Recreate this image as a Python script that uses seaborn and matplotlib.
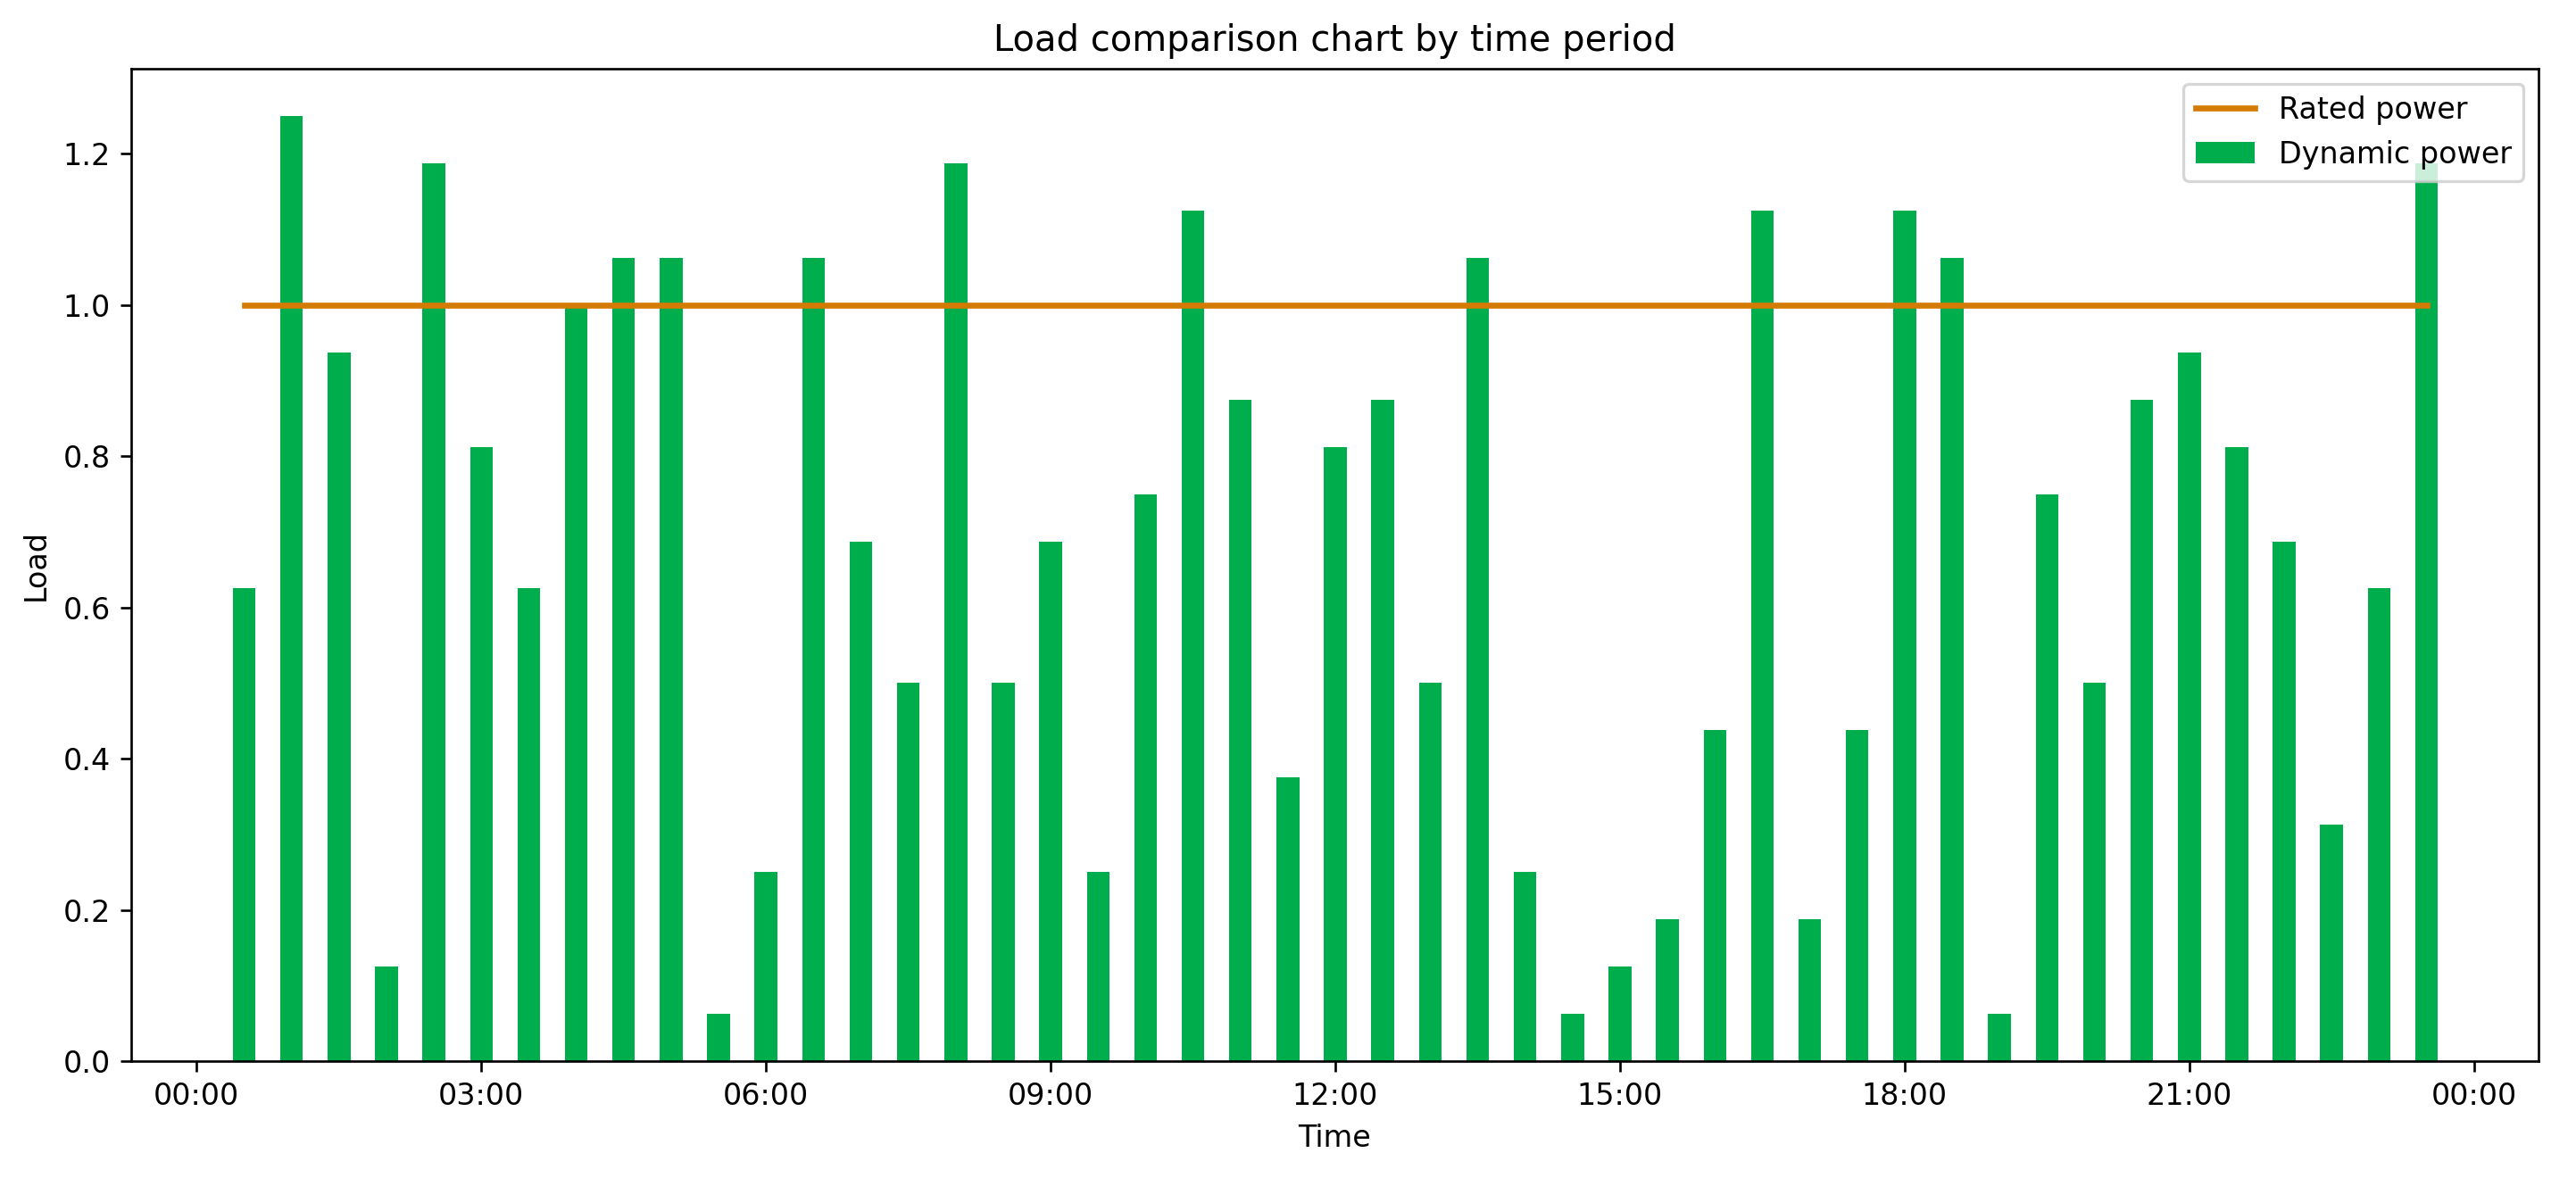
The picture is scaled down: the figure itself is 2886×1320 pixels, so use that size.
import matplotlib
matplotlib.use("Agg")
import matplotlib.pyplot as plt
import matplotlib.dates as mdates
import seaborn as sns
import pandas as pd
import numpy as np

# ---- data ----
times = ["00:30", "01:00", "01:30", "02:00", "02:30", "03:00", "03:30", "04:00",
         "04:30", "05:00", "05:30", "06:00", "06:30", "07:00", "07:30", "08:00",
         "08:30", "09:00", "09:30", "10:00", "10:30", "11:00", "11:30", "12:00",
         "12:30", "13:00", "13:30", "14:00", "14:30", "15:00", "15:30", "16:00",
         "16:30", "17:00", "17:30", "18:00", "18:30", "19:00", "19:30", "20:00",
         "20:30", "21:00", "21:30", "22:00", "22:30", "23:00", "23:30"]
dynamic_power = [0.625, 1.25, 0.9375, 0.125, 1.1875, 0.8125, 0.625, 1.0,
                 1.0625, 1.0625, 0.0625, 0.25, 1.0625, 0.6875, 0.5, 1.1875,
                 0.5, 0.6875, 0.25, 0.75, 1.125, 0.875, 0.375, 0.8125,
                 0.875, 0.5, 1.0625, 0.25, 0.0625, 0.125, 0.1875, 0.4375,
                 1.125, 0.1875, 0.4375, 1.125, 1.0625, 0.0625, 0.75, 0.5,
                 0.875, 0.9375, 0.8125, 0.6875, 0.3125, 0.625, 1.1875]
rated_power = [1.0] * len(times)
labels = {"rated": "Rated power", "dynamic": "Dynamic power"}
title = "Load comparison chart by time period"
xlabel = "Time"
ylabel = "Load"

plt.rcParams["font.family"] = ["DejaVu Sans"]

day = "2023-01-01"
dt = pd.to_datetime([f"{day} {t}" for t in times])
xnum = mdates.date2num(dt)
df = pd.DataFrame({"t": xnum, "dynamic": dynamic_power, "rated": rated_power})

DPI = 240
fig = plt.figure(figsize=(2886 / DPI, 1320 / DPI), dpi=DPI)
ax = fig.add_axes([147 / 2886, 1 - 1189 / 1320, (2844 - 147) / 2886, (1189 - 77) / 1320])

line_color = "#d47b06"
bar_color = "#00ad4c"

sns.lineplot(data=df, x="t", y="rated", ax=ax, color=line_color, linewidth=2,
             label=labels["rated"])
sns.barplot(data=df, x="t", y="dynamic", ax=ax, native_scale=True, width=0.48,
            color=bar_color, saturation=1, linewidth=0, label=labels["dynamic"])

day0 = mdates.date2num(pd.Timestamp(day))
ax.set_xlim(day0 - 0.69 / 24, day0 + 24.68 / 24)
ax.set_ylim(0, 1.3125)
ax.xaxis.set_major_locator(mdates.HourLocator(byhour=range(0, 24, 3)))
ax.xaxis.set_major_formatter(mdates.DateFormatter("%H:%M"))
ax.set_yticks(np.arange(0, 1.21, 0.2))
ax.set_title(title, fontsize=12)
ax.set_xlabel(xlabel, fontsize=10)
ax.set_ylabel(ylabel, fontsize=10)
ax.tick_params(labelsize=10)
ax.legend(loc="upper right", fontsize=10)

fig.savefig("out.png", dpi=DPI)
